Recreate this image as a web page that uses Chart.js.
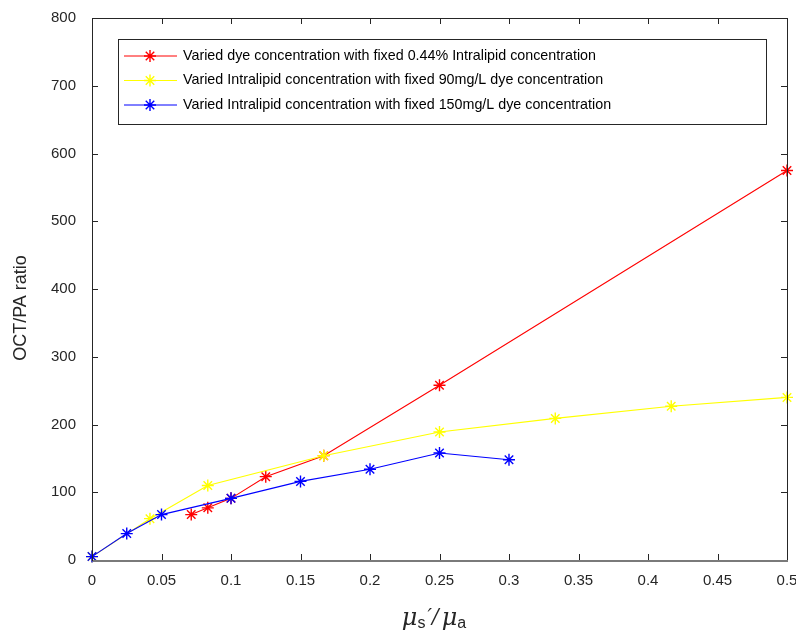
<!DOCTYPE html>
<html lang="en">
<head>
    <meta charset="UTF-8">
    <title>OCT/PA ratio</title>
    <script src="https://cdn.jsdelivr.net/npm/chart.js"></script>
    <style>
        body { margin: 0; padding: 0; background: #fff; }
        #wrap { width: 796px; height: 634px; }
    </style>
</head>
<body>
    <div id="wrap"><canvas id="chart" width="796" height="634"></canvas></div>

    <script>
        // values
        const seriesLabels = [
            'Varied dye concentration with fixed 0.44% Intralipid concentration',
            'Varied Intralipid concentration with fixed 90mg/L dye concentration',
            'Varied Intralipid concentration with fixed 150mg/L dye concentration'
        ];
        const seriesColors = ['#ff0000', '#ffff00', '#0000ff'];

        const dyeX = [0.0714, 0.0833, 0.1, 0.125, 0.1667, 0.25, 0.5];
        const dyeY = [67, 77, 91, 123, 154, 258, 575];

        const lipid90X = [0, 0.0417, 0.0833, 0.1667, 0.25, 0.3333, 0.4167, 0.5];
        const lipid90Y = [5, 61, 110, 154, 189, 209, 227, 240];

        const lipid150X = [0, 0.025, 0.05, 0.1, 0.15, 0.2, 0.25, 0.3];
        const lipid150Y = [5, 39, 67, 91, 116, 134, 158, 148];

        const xTicks = [0, 0.05, 0.1, 0.15, 0.2, 0.25, 0.3, 0.35, 0.4, 0.45, 0.5];
        const yTicks = [0, 100, 200, 300, 400, 500, 600, 700, 800];
        const yTitle = 'OCT/PA ratio';

        const axisColor = '#262626';
        const font = 'Liberation Sans, Arial, sans-serif';

        function pts(xs, ys) {
            return xs.map((x, i) => ({ x: x, y: ys[i] }));
        }

        function drawStar(ctx, cx, cy, r) {
            ctx.beginPath();
            for (let k = 0; k < 4; k++) {
                const a = k * Math.PI / 4;
                ctx.moveTo(cx - r * Math.sin(a), cy - r * Math.cos(a));
                ctx.lineTo(cx + r * Math.sin(a), cy + r * Math.cos(a));
            }
            ctx.stroke();
        }

        // box round the axes with inward ticks, like the original figure
        const boxPlugin = {
            id: 'box',
            afterDraw(chart) {
                const { ctx, chartArea: a, scales } = chart;
                const x = scales.x, y = scales.y;
                ctx.save();
                ctx.strokeStyle = axisColor;
                ctx.lineWidth = 1;
                ctx.strokeRect(a.left + 0.5, a.top + 0.5, a.right - a.left, a.bottom - a.top);
                ctx.beginPath();
                xTicks.forEach(v => {
                    const px = Math.round(x.getPixelForValue(v)) + 0.5;
                    ctx.moveTo(px, a.bottom); ctx.lineTo(px, a.bottom - 6);
                    ctx.moveTo(px, a.top); ctx.lineTo(px, a.top + 6);
                });
                yTicks.forEach(v => {
                    const py = Math.round(y.getPixelForValue(v)) + 0.5;
                    ctx.moveTo(a.left, py); ctx.lineTo(a.left + 6, py);
                    ctx.moveTo(a.right, py); ctx.lineTo(a.right - 6, py);
                });
                ctx.stroke();
                // bottom edge is drawn a bit heavier and grey in the original
                ctx.strokeStyle = '#7a7a7a';
                ctx.lineWidth = 2;
                ctx.beginPath();
                ctx.moveTo(a.left + 1, a.bottom + 1); ctx.lineTo(a.right + 1, a.bottom + 1);
                ctx.stroke();

                // y axis title, sits a little below the middle in the original
                ctx.save();
                ctx.translate(21.5, 308);
                ctx.rotate(-Math.PI / 2);
                ctx.fillStyle = axisColor;
                ctx.font = '18px ' + font;
                ctx.textAlign = 'center';
                ctx.textBaseline = 'middle';
                ctx.fillText(yTitle, 0, 0);
                ctx.restore();

                // x axis title  mu_s' / mu_a
                const parts = [
                    ['μ', 'italic 24px DejaVu Serif', 0, 0],
                    ['s', '16px ' + font, 3, 2],
                    ['\u2032/', 'italic 20px DejaVu Serif', -2, 3],
                    ['μ', 'italic 24px DejaVu Serif', 0, 0],
                    ['a', '16px ' + font, 3, 0]
                ];
                let total = 0;
                parts.forEach(p => { ctx.font = p[1]; total += ctx.measureText(p[0]).width + p[3]; });
                let cx = 434 - total / 2;
                ctx.fillStyle = axisColor;
                ctx.textBaseline = 'alphabetic';
                ctx.textAlign = 'left';
                parts.forEach(p => {
                    ctx.font = p[1];
                    ctx.fillText(p[0], cx, 625 + p[2]);
                    cx += ctx.measureText(p[0]).width + p[3];
                });

                // legend box inside the axes
                const lx = 118, ly = 39, lw = 648, lh = 85;
                ctx.fillStyle = '#fff';
                ctx.fillRect(lx, ly, lw, lh);
                ctx.strokeStyle = axisColor;
                ctx.lineWidth = 1;
                ctx.strokeRect(lx + 0.5, ly + 0.5, lw, lh);
                chart.data.datasets.forEach((ds, i) => {
                    const yy = 56 + i * 24.5;
                    ctx.strokeStyle = ds.borderColor;
                    ctx.lineWidth = 1;
                    ctx.beginPath();
                    ctx.moveTo(124, yy); ctx.lineTo(177, yy);
                    ctx.stroke();
                    ctx.lineWidth = 1.4;
                    drawStar(ctx, 150, yy, 6);
                    ctx.fillStyle = '#000';
                    ctx.font = '14.3px ' + font;
                    ctx.textBaseline = 'middle';
                    ctx.fillText(ds.label, 183, yy);
                });
                ctx.restore();
            }
        };

        // later series are painted on top, as in the original
        const datasets = [
            pts(dyeX, dyeY),
            pts(lipid90X, lipid90Y),
            pts(lipid150X, lipid150Y)
        ].map((d, i) => ({
            label: seriesLabels[i],
            data: d,
            order: 2 - i,
            showLine: true,
            borderColor: seriesColors[i],
            backgroundColor: seriesColors[i],
            borderWidth: 1.1,
            pointStyle: 'star',
            pointRadius: 6,
            pointBorderWidth: 1.4,
            tension: 0,
            clip: false
        }));

        new Chart(document.getElementById('chart').getContext('2d'), {
            type: 'scatter',
            data: { datasets: datasets },
            plugins: [boxPlugin],
            options: {
                responsive: false,
                animation: false,
                layout: { padding: { top: 18, right: 9, left: 0, bottom: 0 } },
                plugins: {
                    legend: { display: false },
                    tooltip: { enabled: false }
                },
                scales: {
                    x: {
                        type: 'linear',
                        min: 0,
                        max: 0.5,
                        afterBuildTicks: s => { s.ticks = xTicks.map(v => ({ value: v })); },
                        afterFit: s => { s.height = 74; s.paddingRight = 0; s.paddingLeft = 0; },
                        grid: { display: false, drawTicks: false },
                        border: { display: false },
                        ticks: {
                            color: axisColor,
                            font: { family: font, size: 15 },
                            padding: 12,
                            maxRotation: 0,
                            callback: v => String(Number(v.toFixed(2)))
                        },
                        title: { display: false }
                    },
                    y: {
                        min: 0,
                        max: 800,
                        afterBuildTicks: s => { s.ticks = yTicks.map(v => ({ value: v })); },
                        afterFit: s => { s.width = 92; s.paddingTop = 0; s.paddingBottom = 0; },
                        grid: { display: false, drawTicks: false },
                        border: { display: false },
                        ticks: {
                            color: axisColor,
                            font: { family: font, size: 15 },
                            padding: 16
                        },
                        title: { display: false }
                    }
                }
            }
        });
    </script>
</body>
</html>
